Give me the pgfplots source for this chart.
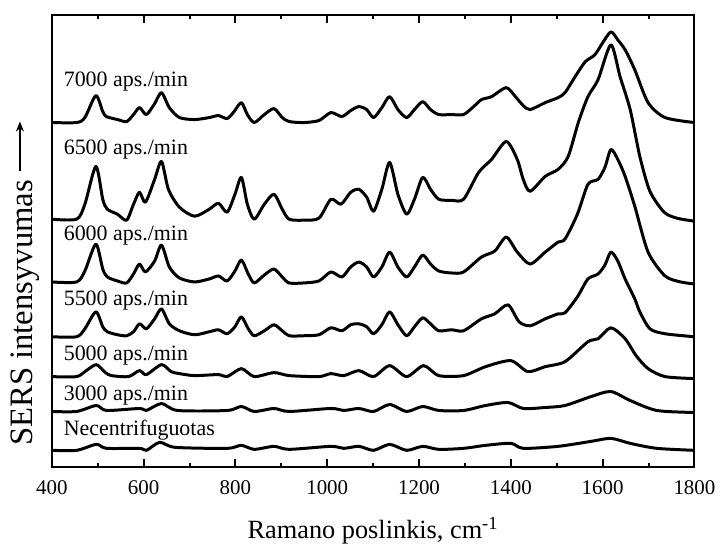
\documentclass[border=0pt]{standalone}
\usepackage{pgfplots}
\pgfplotsset{compat=1.18}
\usepackage{fontspec}
\setmainfont{Liberation Serif}
\usetikzlibrary{arrows.meta}
\begin{document}
\begin{tikzpicture}
\begin{axis}[
  scale only axis,
  width=322.5pt, height=227pt,
  xmin=400, xmax=1800, ymin=0, ymax=454,
  xtick={400,600,...,1800},
  minor xtick={500,700,...,1700},
  ytick=\empty,
  major tick length=4pt,
  minor tick length=2pt,
  every tick/.append style={black, line width=1pt},
  /pgf/number format/assume math mode=true,
  /pgf/number format/1000 sep={},
  xticklabel style={font=\fontsize{10.5}{12}\selectfont, yshift=-3pt},
  xlabel={Ramano poslinkis, cm\textsuperscript{-1}},
  xlabel style={at={(rel axis cs:0.5,0)}, anchor=base, yshift=-35.5pt, font=\fontsize{13.2}{15}\selectfont},
  spec/.style={black, solid, line width=1.5pt, line join=round, no markers, smooth, tension=0.45},
  tk/.style={black, solid, line width=1pt, no markers, unbounded coords=jump, forget plot},
  every axis/.append style={line width=1pt},
]
% tick marks (major 8 units, minor 4 units; bottom and top)
\addplot[tk] coordinates {(600,0)(600,8)(600,nan)(800,0)(800,8)(800,nan)(1000,0)(1000,8)(1000,nan)(1200,0)(1200,8)(1200,nan)(1400,0)(1400,8)(1400,nan)(1600,0)(1600,8)(1600,nan)
(500,0)(500,4)(500,nan)(700,0)(700,4)(700,nan)(900,0)(900,4)(900,nan)(1100,0)(1100,4)(1100,nan)(1300,0)(1300,4)(1300,nan)(1500,0)(1500,4)(1500,nan)(1700,0)(1700,4)};
\addplot[tk] coordinates {(600,454)(600,446)(600,nan)(800,454)(800,446)(800,nan)(1000,454)(1000,446)(1000,nan)(1200,454)(1200,446)(1200,nan)(1400,454)(1400,446)(1400,nan)(1600,454)(1600,446)(1600,nan)
(500,454)(500,450)(500,nan)(700,454)(700,450)(700,nan)(900,454)(900,450)(900,nan)(1100,454)(1100,450)(1100,nan)(1300,454)(1300,450)(1300,nan)(1500,454)(1500,450)(1500,nan)(1700,454)(1700,450)};
% 7000
\addplot[spec] coordinates {(400,346)(454,346)(472,351)(496,373)(511,357)(519,352)(543,349)(563,347)(578,354)(591,361)(606,354)(624,365)(639,376)(656,361)(678,351)(711,349)(743,351)(763,353)(782,350)(797,357)(813,366)(826,354)(841,346)(863,354)(884,360)(902,351)(917,347)(949,346)(982,348)(1008,356)(1032,352)(1051,358)(1069,362)(1086,359)(1101,351)(1119,361)(1136,372)(1154,359)(1173,351)(1190,359)(1208,367)(1225,359)(1243,354)(1271,354)(1297,354)(1319,362)(1336,369)(1358,372)(1390,381)(1410,372)(1427,363)(1442,359)(1475,366)(1503,371)(1518,376)(1540,392)(1562,407)(1583,414)(1600,426)(1618,437)(1633,429)(1649,419)(1670,399)(1699,366)(1736,351)(1800,346)};
% 6500
\addplot[spec] coordinates {(400,249)(454,249)(472,264)(496,302)(511,269)(521,259)(543,254)(563,248)(578,264)(591,276)(604,266)(624,289)(639,307)(654,279)(678,261)(711,252)(743,259)(763,265)(782,256)(799,274)(813,291)(826,264)(841,249)(863,264)(884,274)(902,259)(917,249)(949,248)(982,250)(1008,269)(1030,264)(1051,276)(1069,279)(1086,271)(1101,257)(1119,279)(1136,306)(1154,274)(1173,254)(1190,269)(1208,291)(1225,279)(1243,269)(1271,268)(1297,269)(1330,296)(1358,309)(1390,327)(1414,309)(1427,289)(1442,277)(1475,292)(1503,299)(1525,312)(1547,346)(1568,372)(1590,389)(1618,424)(1638,392)(1660,359)(1681,312)(1703,277)(1734,256)(1762,250)(1800,247)};
% 6000
\addplot[spec] coordinates {(400,186)(454,186)(472,197)(496,224)(511,199)(521,191)(543,187)(563,185)(578,194)(591,204)(604,196)(624,207)(639,223)(656,201)(678,190)(711,186)(743,189)(763,192)(782,187)(799,197)(813,208)(828,194)(841,185)(863,193)(884,199)(902,191)(917,185)(949,185)(982,187)(1008,196)(1032,191)(1051,201)(1069,206)(1086,201)(1101,191)(1119,201)(1136,216)(1154,201)(1173,191)(1190,201)(1208,213)(1225,204)(1243,197)(1271,195)(1297,196)(1336,211)(1365,217)(1390,231)(1414,216)(1442,204)(1475,216)(1503,226)(1518,229)(1545,254)(1568,284)(1590,289)(1605,301)(1618,319)(1633,309)(1649,292)(1670,262)(1699,216)(1736,192)(1770,186)(1800,184)};
% 5500
\addplot[spec] coordinates {(400,131)(454,131)(472,139)(496,156)(511,141)(521,136)(543,133)(563,132)(578,136)(591,144)(606,139)(624,149)(639,159)(656,144)(678,137)(711,133)(743,136)(763,138)(782,134)(799,141)(813,151)(828,139)(841,132)(863,137)(884,143)(902,137)(917,132)(949,132)(982,133)(1008,140)(1032,137)(1051,143)(1069,144)(1086,141)(1101,134)(1119,143)(1136,156)(1154,143)(1173,132)(1190,141)(1208,150)(1225,144)(1243,137)(1271,138)(1297,137)(1336,149)(1365,154)(1394,163)(1418,146)(1442,142)(1475,149)(1503,154)(1518,155)(1545,171)(1568,189)(1590,194)(1605,203)(1618,216)(1633,207)(1649,189)(1670,169)(1681,156)(1703,139)(1736,134)(1800,131)};
% 5000
\addplot[spec] coordinates {(400,91)(454,91)(475,97)(497,103)(517,95)(530,92)(567,91)(591,97)(606,93)(639,103)(660,96)(678,94)(711,92)(763,93)(782,91)(813,99)(841,91)(884,95)(917,92)(982,91)(1008,94)(1036,92)(1069,97)(1101,91)(1136,102)(1173,91)(1210,102)(1243,92)(1297,92)(1345,101)(1400,107)(1437,96)(1475,101)(1518,106)(1568,126)(1590,129)(1618,140)(1649,129)(1673,112)(1699,99)(1736,91)(1800,89)};
% 3000
\addplot[spec] coordinates {(400,56)(454,56)(497,62)(519,57)(591,59)(606,57)(639,64)(674,57)(782,57)(813,61)(841,56)(884,59)(917,56)(1008,59)(1036,57)(1069,59)(1101,56)(1136,63)(1173,56)(1208,61)(1243,57)(1297,57)(1345,62)(1394,65)(1427,59)(1475,60)(1518,62)(1575,71)(1618,76)(1660,67)(1718,57)(1800,55)};
% Necentrifuguotas
\addplot[spec] coordinates {(400,17)(454,17)(497,23)(519,19)(591,19)(606,17)(635,25)(669,20)(782,19)(813,22)(841,18)(884,21)(917,18)(1008,21)(1036,19)(1069,21)(1101,17)(1136,23)(1173,17)(1208,21)(1243,18)(1297,19)(1345,22)(1400,24)(1427,19)(1503,21)(1575,26)(1618,29)(1660,24)(1718,19)(1800,17)};
\begin{scope}[every node/.style={anchor=base west, inner sep=0pt, font=\fontsize{11}{13}\selectfont}]
\node at (axis cs:424,382) {7000 aps./min};
\node at (axis cs:424,314) {6500 aps./min};
\node at (axis cs:424,228) {6000 aps./min};
\node at (axis cs:424,162) {5500 aps./min};
\node at (axis cs:424,107) {5000 aps./min};
\node at (axis cs:424,67) {3000 aps./min};
\node at (axis cs:424,32) {Necentrifuguotas};
\end{scope}
\end{axis}
\node[rotate=90, anchor=base, inner sep=0pt, font=\fontsize{16.4}{19}\selectfont] at (-9.5pt,77.5pt) {SERS intensyvumas};
\draw[line width=0.6pt, -{Stealth[length=5pt,width=4pt]}] (-16pt,148.5pt) -- (-16pt,173.5pt);
\path (-26pt,-38.6pt) rectangle (335pt,234.5pt);
\end{tikzpicture}
\end{document}
